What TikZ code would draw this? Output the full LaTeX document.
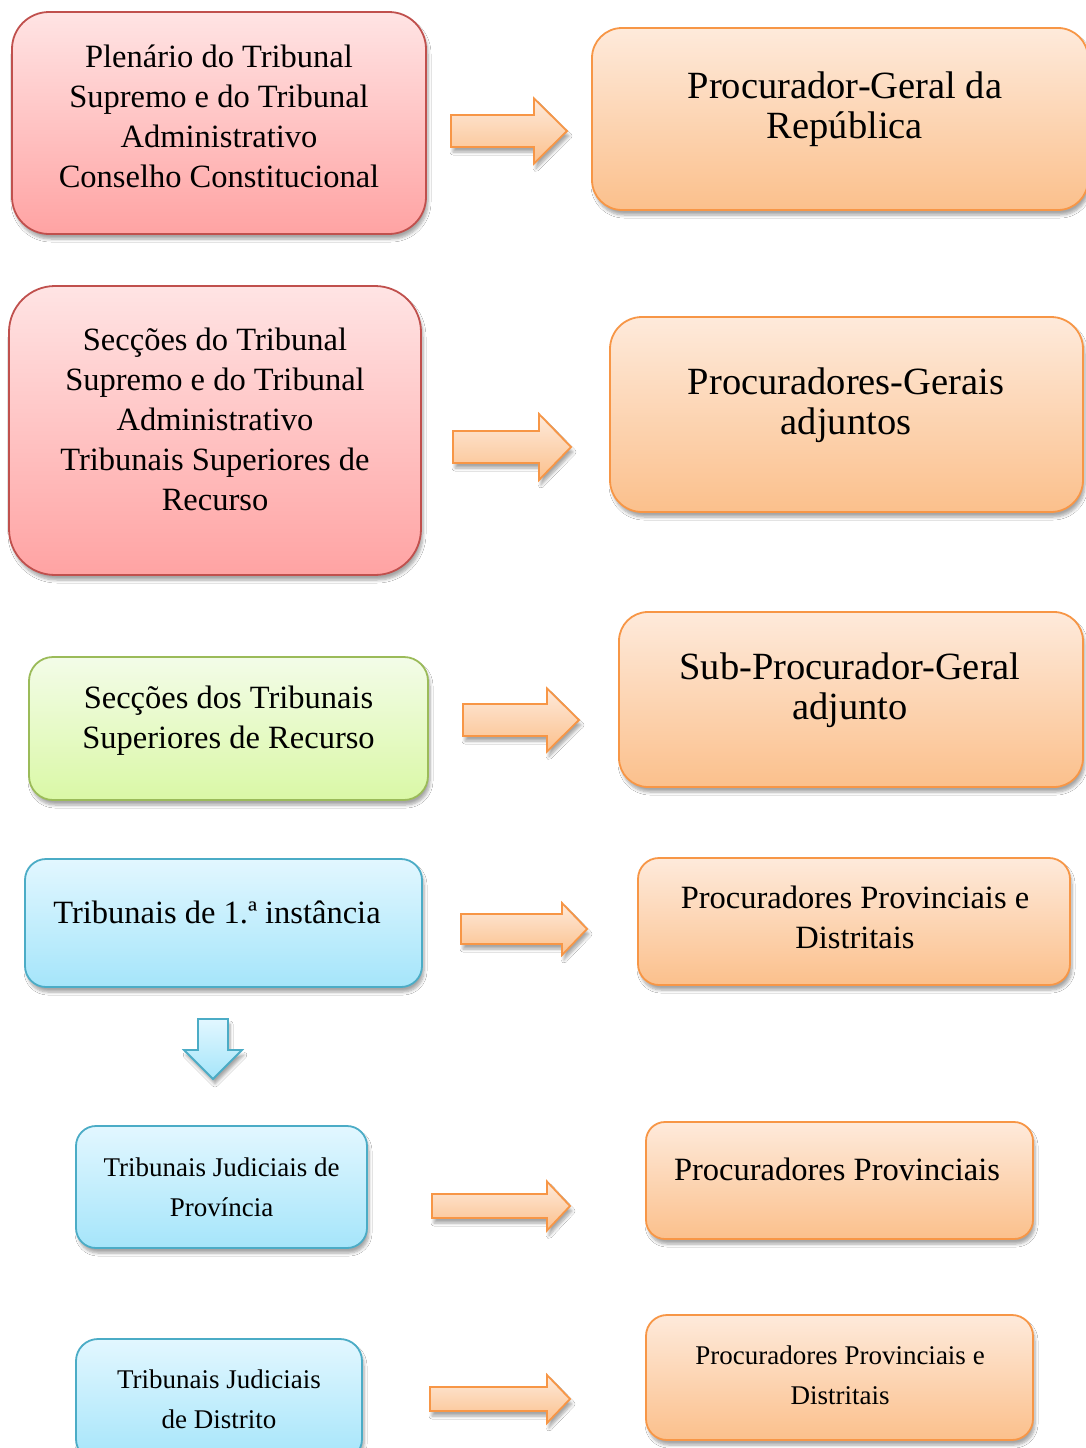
\documentclass[tikz,border=0pt]{standalone}
\usepackage{fontspec}
\setmainfont{Liberation Serif}
\usetikzlibrary{shadows.blur}
\definecolor{redT}{HTML}{FFE4E4}
\definecolor{redBot}{HTML}{FFA3A3}
\definecolor{redB}{HTML}{C0504D}
\definecolor{orT}{HTML}{FEEADB}
\definecolor{orBot}{HTML}{FBC08C}
\definecolor{orB}{HTML}{F79646}
\definecolor{grT}{HTML}{F3FCE8}
\definecolor{grBot}{HTML}{DAF8A6}
\definecolor{grB}{HTML}{9BBB59}
\definecolor{blT}{HTML}{E2F7FF}
\definecolor{blBot}{HTML}{A5E5FA}
\definecolor{blB}{HTML}{4BACC6}
\tikzset{
  box/.style={rectangle, inner sep=0pt, line width=1.8pt,
    blur shadow={shadow xshift=2pt, shadow yshift=-5pt, shadow blur steps=6, shadow opacity=35, shadow blur radius=3pt}},
  redbox/.style={box, draw=redB, top color=redT, bottom color=redBot},
  orbox/.style={box, draw=orB, top color=orT, bottom color=orBot},
  grbox/.style={box, draw=grB, top color=grT, bottom color=grBot},
  blbox/.style={box, draw=blB, top color=blT, bottom color=blBot},
  txtM/.style={align=center, inner sep=0pt, font=\fontsize{32.5}{40}\selectfont},
  txtL/.style={align=center, inner sep=0pt, font=\fontsize{38.5}{40}\selectfont},
  txtS/.style={align=center, inner sep=0pt, font=\fontsize{27}{40}\selectfont},
  orarrow/.style={draw=orB, line width=1.8pt, line join=miter, top color=orT, bottom color=orBot,
    blur shadow={shadow xshift=2pt, shadow yshift=-5pt, shadow blur steps=6, shadow opacity=35, shadow blur radius=3pt}},
  blarrow/.style={draw=blB, line width=1.8pt, line join=miter, top color=blT, bottom color=blBot,
    blur shadow={shadow xshift=2pt, shadow yshift=-5pt, shadow blur steps=6, shadow opacity=35, shadow blur radius=3pt}},
}
% right block arrow: name, x0, x1 (tip), xb (head base), yc, shaft half, head half
\newcommand{\blkArrowR}[7]{%
  \coordinate (#1-s) at (#2,#5);
  \coordinate (#1-e) at (#3,#5);
  \draw[orarrow] (#2,#5-#6) -- (#4,#5-#6) -- (#4,#5-#7) -- (#1-e) -- (#4,#5+#7) -- (#4,#5+#6) -- (#2,#5+#6) -- cycle;
}
\begin{document}
\begin{tikzpicture}[x=1pt, y=-1pt]
\useasboundingbox (0,0) rectangle (1086,1448);
\clip (0,0) rectangle (1086,1448);
\fill[white] (0,0) rectangle (1086,1448);

% left column
\node[redbox, minimum width=414pt, minimum height=222pt, rounded corners=37pt] (r1) at (219,123) {};
\node[txtM] (tr1) at (219,116) {Plenário do Tribunal\\Supremo e do Tribunal\\Administrativo\\Conselho Constitucional};

\node[redbox, minimum width=412pt, minimum height=289pt, rounded corners=46pt] (r2) at (215,430.5) {};
\node[txtM] (tr2) at (215,419) {Secções do Tribunal\\Supremo e do Tribunal\\Administrativo\\Tribunais Superiores de\\Recurso};

\node[grbox, minimum width=399pt, minimum height=143pt, rounded corners=24pt] (g1) at (228.5,728.5) {};
\node[txtM] (tg1) at (228.5,721) {Secções dos Tribunais\\Superiores de Recurso};

\node[blbox, minimum width=397pt, minimum height=128pt, rounded corners=21pt] (b1) at (223.5,923) {};
\node[txtM] (tb1) at (217,912) {Tribunais de 1.ª instância};

\node[blbox, minimum width=291pt, minimum height=122pt, rounded corners=20pt] (b2) at (221.5,1187) {};
\node[txtS] (tb2) at (221.5,1187) {Tribunais Judiciais de\\Província};

\node[blbox, minimum width=286pt, minimum height=122pt, rounded corners=22pt] (b3) at (219,1400) {};
\node[txtS] (tb3) at (219,1399) {Tribunais Judiciais\\de Distrito};

% right column
\node[orbox, minimum width=496pt, minimum height=182pt, rounded corners=30pt] (o1) at (840,119) {};
\node[txtL] (to1) at (845,109) {Procurador-Geral da\\República};

\node[orbox, minimum width=473pt, minimum height=195pt, rounded corners=32pt] (o2) at (846.5,414.5) {};
\node[txtL] (to2) at (846,405) {Procuradores-Gerais\\adjuntos};

\node[orbox, minimum width=464pt, minimum height=175pt, rounded corners=29pt] (o3) at (851,699.5) {};
\node[txtL] (to3) at (850,690) {Sub-Procurador-Geral\\adjunto};

\node[orbox, minimum width=432pt, minimum height=127pt, rounded corners=21pt] (o4) at (854,921.5) {};
\node[txtM] (to4) at (855,917) {Procuradores Provinciais e\\Distritais};

\node[orbox, minimum width=387pt, minimum height=117pt, rounded corners=19pt] (o5) at (839.5,1180.5) {};
\node[txtM] (to5) at (837,1169) {Procuradores Provinciais};

\node[orbox, minimum width=387pt, minimum height=125pt, rounded corners=21pt] (o6) at (839.5,1377.5) {};
\node[txtS] (to6) at (840,1375) {Procuradores Provinciais e\\Distritais};

% block arrows
\blkArrowR{a1}{451}{567}{534}{131}{16}{32.5}
\blkArrowR{a2}{453}{571}{539}{447}{16}{33}
\blkArrowR{a3}{463}{579}{547}{720}{16}{31.5}
\blkArrowR{a4}{461}{587}{562}{929}{15}{26}
\blkArrowR{a5}{432}{570}{547}{1206}{12}{24.5}
\blkArrowR{a6}{430}{570}{547}{1399}{12}{24}

% down arrow
\coordinate (d-s) at (213,1019);
\coordinate (d-e) at (213,1079);
\draw[blarrow] (198,1019) -- (228,1019) -- (228,1050) -- (242,1050) -- (d-e) -- (184,1050) -- (198,1050) -- cycle;
\end{tikzpicture}
\end{document}
